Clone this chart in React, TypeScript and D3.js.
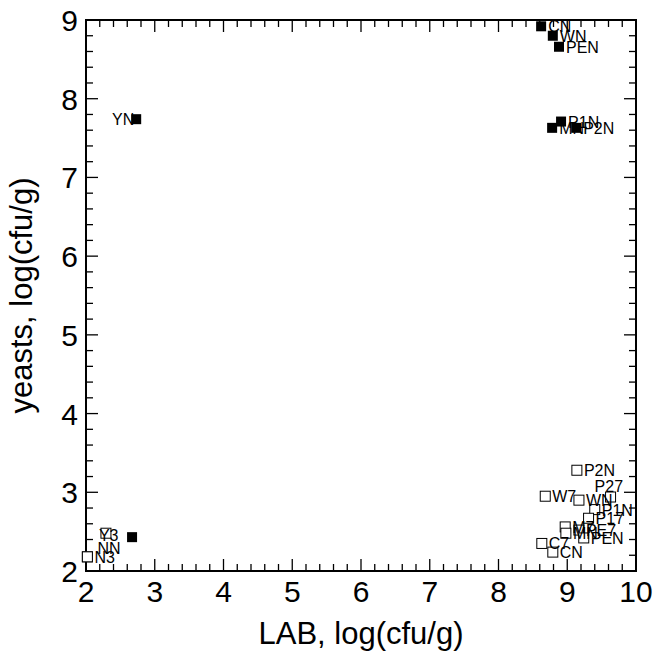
import React from "react";
import * as d3 from "d3";

// values (log cfu/g)
const filledNames = ["CN", "WN", "PEN", "MN", "P1N", "P2N", "YN", ""];
const filledLAB = [8.62, 8.79, 8.88, 8.78, 8.91, 9.13, 2.73, 2.67];
const filledYeast = [8.92, 8.8, 8.66, 7.63, 7.71, 7.63, 7.74, 2.43];

const openNames = ["P2N", "W7", "WN", "P27", "P1N", "P17", "M7", "MN", "PE7", "PEN", "C7", "CN", "Y3", "NN", "N3"];
const openLAB = [9.14, 8.68, 9.17, 9.63, 9.4, 9.31, 8.97, 8.98, 9.17, 9.24, 8.63, 8.79, 2.29, 2.02, 2.02];
const openYeast = [3.28, 2.95, 2.9, 2.94, 2.78, 2.67, 2.56, 2.48, 2.52, 2.42, 2.35, 2.24, 2.48, 2.18, 2.18];

const xTicks = [2, 3, 4, 5, 6, 7, 8, 9, 10];
const yTicks = [2, 3, 4, 5, 6, 7, 8, 9];

// label nudges for crowded spots
const nudge: Record<string, [number, number, string?]> = {
  "filled-YN": [-9, 0, "end"],
  "open-Y3": [-14, 2],
  "open-NN": [3, -9],
  "open-P27": [-23, -11],
};

const W = 654;
const H = 656;
const margin = { top: 20, right: 18, bottom: 85, left: 86 };
const font = "'Liberation Sans', Arial, Helvetica, sans-serif";

export default function App() {
  const w = W - margin.left - margin.right;
  const h = H - margin.top - margin.bottom;

  const x = d3.scaleLinear().domain([2, 10]).range([0, w]);
  const y = d3.scaleLinear().domain([2, 9]).range([h, 0]);

  const xMinor = d3.range(2, 10.001, 0.2);
  const yMinor = d3.range(2, 9.001, 0.2);
  const isMajor = (v: number) => Math.abs(v - Math.round(v)) < 1e-6;
  const tl = (v: number) => (isMajor(v) ? 12 : 7);

  const filled = filledNames.map((n, i) => ({ name: n, x: filledLAB[i], y: filledYeast[i], key: "filled-" + n }));
  const open = openNames.map((n, i) => ({ name: n, x: openLAB[i], y: openYeast[i], key: "open-" + n }));

  const s = 10;

  const label = (d: { name: string; x: number; y: number; key: string }) => {
    if (!d.name) return null;
    const nd = nudge[d.key] || [0, 0];
    return (
      <text
        key={"t" + d.key}
        x={x(d.x) + 7 + nd[0]}
        y={y(d.y) + 6 + nd[1]}
        fontSize={16}
        textAnchor={nd[2] || "start"}
        fill="#000"
      >
        {d.name}
      </text>
    );
  };

  return (
    <svg width={W} height={H} style={{ position: "absolute", left: 0, top: 0, background: "#fff" }} fontFamily={font}>
      <g transform={`translate(${margin.left},${margin.top})`}>
        {/* ticks, all inward */}
        {xMinor.map((v, i) => (
          <g key={"xt" + i}>
            <line x1={x(v)} x2={x(v)} y1={h} y2={h - tl(v)} stroke="#000" strokeWidth={1.3} />
            <line x1={x(v)} x2={x(v)} y1={0} y2={tl(v)} stroke="#000" strokeWidth={1.3} />
          </g>
        ))}
        {yMinor.map((v, i) => (
          <g key={"yt" + i}>
            <line x1={0} x2={tl(v)} y1={y(v)} y2={y(v)} stroke="#000" strokeWidth={1.3} />
            <line x1={w} x2={w - tl(v)} y1={y(v)} y2={y(v)} stroke="#000" strokeWidth={1.3} />
          </g>
        ))}
        <rect x={0} y={0} width={w} height={h} fill="none" stroke="#000" strokeWidth={2} />

        {xTicks.map((v) => (
          <text key={"xl" + v} x={x(v)} y={h + 31} fontSize={30} textAnchor="middle">
            {v}
          </text>
        ))}
        {yTicks.map((v) => (
          <text key={"yl" + v} x={-8} y={y(v) + 11} fontSize={30} textAnchor="end">
            {v}
          </text>
        ))}

        {open.map((d) => (
          <rect key={d.key} x={x(d.x) - s / 2} y={y(d.y) - s / 2} width={s} height={s} fill="#fff" stroke="#000" strokeWidth={1} />
        ))}
        {filled.map((d) => (
          <rect key={d.key} x={x(d.x) - s / 2} y={y(d.y) - s / 2} width={s} height={s} fill="#000" />
        ))}
        {open.map(label)}
        {filled.map(label)}

        <text x={w / 2} y={h + 73} fontSize={31} textAnchor="middle">
          LAB, log(cfu/g)
        </text>
        <text transform={`translate(${-54},${h / 2}) rotate(-90)`} fontSize={31} textAnchor="middle">
          yeasts, log(cfu/g)
        </text>
      </g>
    </svg>
  );
}
